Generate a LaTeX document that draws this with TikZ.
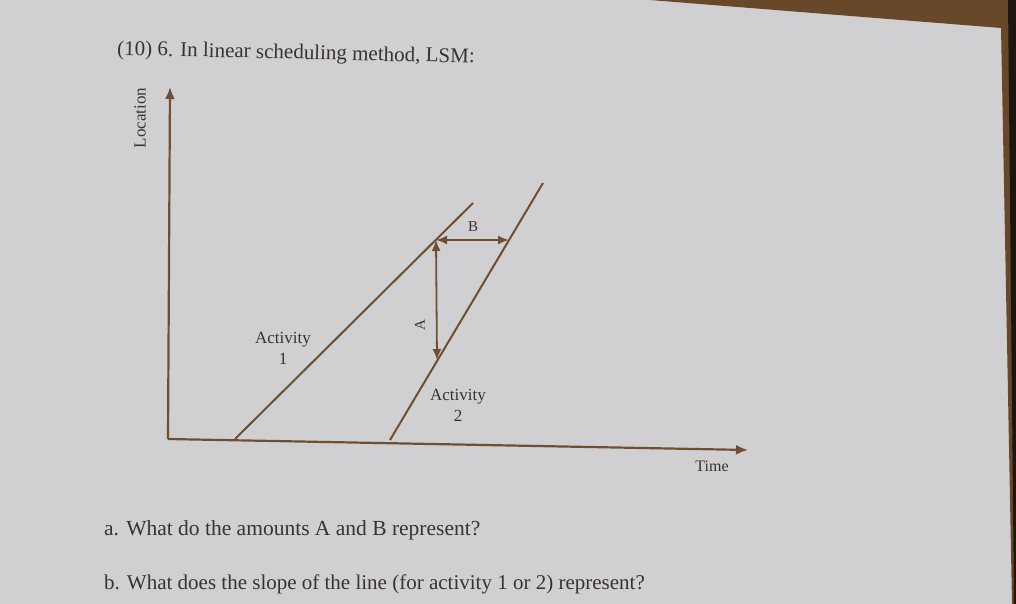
\documentclass[tikz,border=0pt]{standalone}
\usepackage{fontspec}
\setmainfont{Liberation Serif}
\usetikzlibrary{arrows.meta,calc}
\definecolor{slide}{RGB}{208,208,211}
\definecolor{wall}{RGB}{104,72,40}
\definecolor{dark}{RGB}{28,22,16}
\definecolor{ink}{RGB}{58,50,48}
\definecolor{brline}{RGB}{112,78,50}
\tikzset{
  axis/.style={line width=2.2pt, draw=brline, -{Latex[length=12pt,width=10pt]}},
  actline/.style={line width=2pt, draw=brline},
  dim/.style={line width=1.8pt, draw=brline, {Latex[length=11pt,width=9pt]}-{Latex[length=11pt,width=9pt]}},
  lbl/.style={text=ink, inner sep=0pt},
}
\begin{document}
\begin{tikzpicture}[x=1pt, y=-1pt]
\useasboundingbox (0,0) rectangle (1016,604);
% background (photo of the slide)
\fill[slide] (0,0) rectangle (1016,604);
\fill[wall] (650,0) -- (1016,0) -- (1016,604) -- (1012,604) -- (1001,28) -- cycle;
\fill[dark] (1008,0) -- (1016,0) -- (1016,604) -- (1014,604) -- cycle;

% title
\node[lbl, anchor=base west, rotate=-1.3, font=\fontsize{21}{25}\selectfont] (title) at (117,55) {(10) 6. In linear scheduling method, LSM:};

% axes
\coordinate (O) at (168,439);
\coordinate (ytip) at (170,87);
\coordinate (xtip) at (748,450);
\draw[axis] (O) -- (ytip);
\draw[axis] (O) -- (xtip);
\node[lbl, rotate=90, font=\fontsize{17}{20}\selectfont] (loc) at (140,118) {Location};
\node[lbl, font=\fontsize{16}{19}\selectfont] (time) at (712,466) {Time};

% activity lines
\coordinate (a1s) at (235,439);
\coordinate (a1e) at (473,203);
\coordinate (a2s) at (390,440);
\coordinate (a2e) at (543,183);
\draw[actline] (a1s) -- (a1e);
\draw[actline] (a2s) -- (a2e);

% A and B dimensions
\coordinate (P) at (436,240);
\coordinate (Q) at (509,240);
\coordinate (R) at (437,360);
\draw[dim] (P) -- (Q);
\draw[dim] (P) -- (R);
\node[lbl, font=\fontsize{15}{18}\selectfont] (Blbl) at (473,227) {B};
\node[lbl, rotate=90, font=\fontsize{15}{18}\selectfont] (Albl) at (420,325) {A};

% activity labels
\node[lbl, align=center, font=\fontsize{17}{21}\selectfont] (act1) at (283,348) {Activity\\1};
\node[lbl, align=center, font=\fontsize{17}{21}\selectfont] (act2) at (458,405) {Activity\\2};

% questions
\node[lbl, anchor=base west, font=\fontsize{21.5}{25}\selectfont] (qa) at (104,535) {a. What do the amounts A and B represent?};
\node[lbl, anchor=base west, font=\fontsize{21}{25}\selectfont] (qb) at (104,589) {b. What does the slope of the line (for activity 1 or 2) represent?};
\end{tikzpicture}
\end{document}
